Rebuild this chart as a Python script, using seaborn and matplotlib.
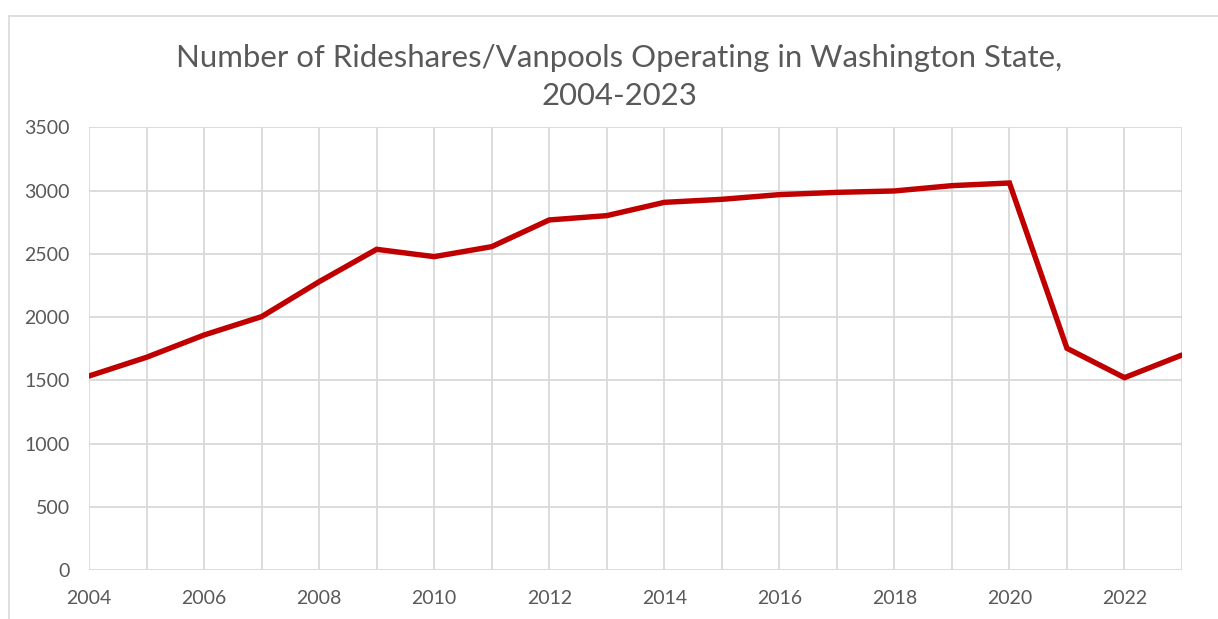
import pandas as pd
import numpy as np
import matplotlib.pyplot as plt
import seaborn as sns
from matplotlib.lines import Line2D

# Daten
years = list(range(2004, 2024))
vanpools = [1535, 1683, 1859, 2004, 2280, 2536, 2478, 2557, 2768, 2802,
            2907, 2931, 2968, 2986, 2997, 3039, 3060, 1754, 1522, 1701]
y_ticks = [0, 500, 1000, 1500, 2000, 2500, 3000, 3500]
x_ticks = list(range(2004, 2024, 2))

df = pd.DataFrame({'Jahr': years, 'Anzahl': vanpools})

sns.set_style('white')
plt.rcParams['font.family'] = ['Lato', 'DejaVu Sans']

fig = plt.figure(figsize=(12.18, 6.19), dpi=100)
ax = fig.add_axes([89 / 1218, 1 - 570.3 / 619, (1182 - 89) / 1218, (570.3 - 127.3) / 619])

grid_col = '#d9d9d9'
text_col = '#595959'

sns.lineplot(data=df, x='Jahr', y='Anzahl', color='#C00000', linewidth=3.9, ax=ax,
             solid_joinstyle='miter', zorder=3)

ax.set_xlim(2004, 2023)
ax.set_ylim(0, 3500)
ax.set_xticks(years, minor=True)
ax.set_xticks(x_ticks)
ax.set_yticks(y_ticks)
ax.grid(True, which='both', color=grid_col, linewidth=1.3)
ax.tick_params(which='both', length=0)
ax.tick_params(axis='x', pad=14, labelsize=14, labelcolor=text_col)
ax.tick_params(axis='y', pad=14, labelsize=14, labelcolor=text_col)
for s in ax.spines.values():
    s.set_visible(False)
ax.set_xlabel('')
ax.set_ylabel('')

fig.text(0.5085, 1 - 77 / 619, 'Number of Rideshares/Vanpools Operating in Washington State,\n2004-2023',
         ha='center', va='center', fontsize=22.4, color=text_col, linespacing=1.4)

# Rahmen des Diagramms
fig.add_artist(Line2D([9 / 1218, 1], [1 - 16 / 619] * 2, color=grid_col, linewidth=1.2))
fig.add_artist(Line2D([9 / 1218] * 2, [0, 1 - 16 / 619], color=grid_col, linewidth=1.2))

fig.savefig('out.png', dpi=100)
